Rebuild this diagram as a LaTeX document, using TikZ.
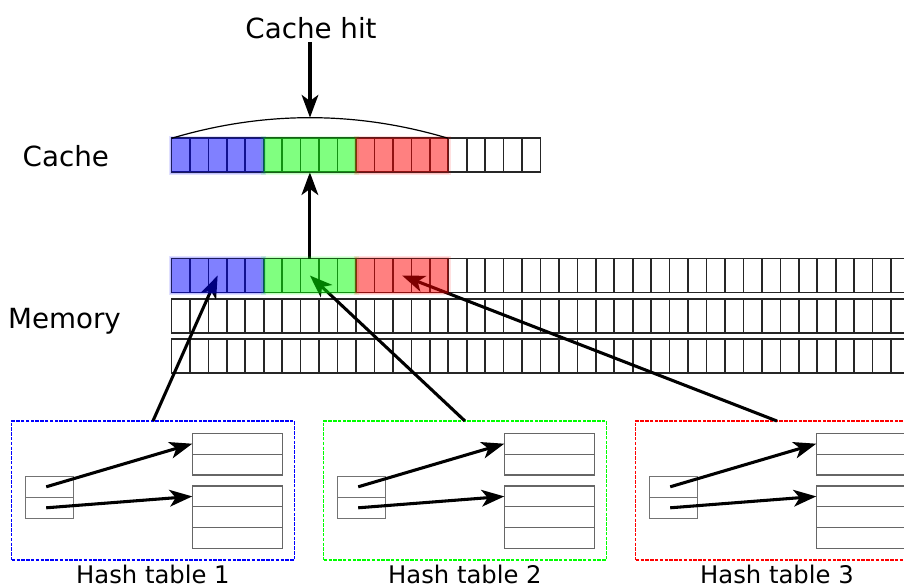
\documentclass[tikz,border=0pt]{standalone}
\usepackage{fontspec}
\setmainfont{DejaVu Sans}
\usetikzlibrary{arrows.meta,calc}

\begin{document}
\begin{tikzpicture}[x=0.75pt,y=-0.75pt,
  cell/.style={draw=black!85,line width=1.25pt,minimum width=18.45*0.75pt,
    minimum height=34*0.75pt,inner sep=0pt,outer sep=0pt},
  kcell/.style={draw=black!55,line width=0.9pt,minimum width=48*0.75pt,
    minimum height=21*0.75pt,inner sep=0pt,outer sep=0pt},
  rcell/.style={draw=black!60,line width=0.9pt,minimum width=90.4*0.75pt,
    minimum height=20.8*0.75pt,inner sep=0pt,outer sep=0pt},
  htbox/.style={line width=0.8pt,dash pattern=on 2.6pt off 1pt,
    minimum width=282.5*0.75pt,minimum height=139*0.75pt,inner sep=0pt,outer sep=0pt},
  biglabel/.style={font=\fontsize{20.8}{24}\selectfont,inner sep=0pt},
  htlabel/.style={font=\fontsize{18.2}{22}\selectfont,inner sep=0pt},
  arr/.style={-{Stealth[length=17pt,width=12.5pt,inset=4.5pt]},line width=2.3pt},
]
\useasboundingbox (0,0) rectangle (904,586);

% cache line
\foreach \i in {1,...,20}
  \node[cell] (c\i) at ({171.5+(\i-0.5)*18.45},155.3) {};

% three rows of memory
\foreach \r/\y in {1/275.5,2/315.8,3/355.8}
  \foreach \i in {1,...,41}
    \node[cell] (m\r-\i) at ({171.5+(\i-0.5)*18.45},\y) {};

% labels on the left
\node[biglabel,anchor=base] (cachelab) at (65.8,166.7) {Cache};
\node[biglabel,anchor=base] (memlab) at (64.5,328.3) {Memory};

% hash tables
\foreach \k/\col in {1/blue,2/green,3/red}{
  \pgfmathsetmacro{\L}{11.7+312*(\k-1)}
  \node[htbox,draw=\col,anchor=north west] (ht\k) at (\L,421) {};
  \node[htlabel,anchor=base] (htl\k) at (\L+141.25,583.8) {Hash table \k};
  \node[kcell] (ka\k) at (\L+38,486.8) {};
  \node[kcell] (kb\k) at (\L+38,507.8) {};
  \node[rcell] (ua\k) at (\L+225.8,443.7) {};
  \node[rcell] (ub\k) at (\L+225.8,464.5) {};
  \node[rcell] (la\k) at (\L+225.8,496.4) {};
  \node[rcell] (lb\k) at (\L+225.8,517.2) {};
  \node[rcell] (lc\k) at (\L+225.8,538.0) {};
  \draw[arr] ($(ka\k.center)+(-3.5,0)$) -- (ua\k.west);
  \draw[arr] ($(kb\k.center)+(-3.5,0)$) -- (la\k.west);
}

% pointers from the tables into memory
\draw[arr] (ht1.north) -- (m1-3.center);
\draw[arr] (ht2.north) -- (m1-8.center);
\draw[arr] (ht3.north) -- (m1-13.center);

% memory line loaded into the cache
\draw[arr] (m1-8.north) -- (c8.south);

% coloured blocks, with a soft edge
\foreach \a/\b/\col in {1/5/blue,6/10/green,11/15/red}{
  \foreach \row in {c,m1-}{
    \fill[\col,opacity=0.12] ($(\row\a.north west)+(-2.5,-2.5)$) rectangle ($(\row\b.south east)+(2.5,2.5)$);
    \fill[\col,opacity=0.15] ($(\row\a.north west)+(-1.2,-1.2)$) rectangle ($(\row\b.south east)+(1.2,1.2)$);
    \fill[\col,opacity=0.33] (\row\a.north west) rectangle (\row\b.south east);
  }
}

% span of the hit and its label
\draw[line width=0.9pt] (c1.north west) .. controls (263.8,110.8) and (356.1,110.8) .. (c15.north east);
\coordinate (arctop) at (310,117.6);
\node[biglabel,anchor=base,inner sep=2pt] (hit) at (311,38.5) {Cache hit};
\draw[arr] (hit.south -| arctop) -- (arctop);
\end{tikzpicture}
\end{document}
